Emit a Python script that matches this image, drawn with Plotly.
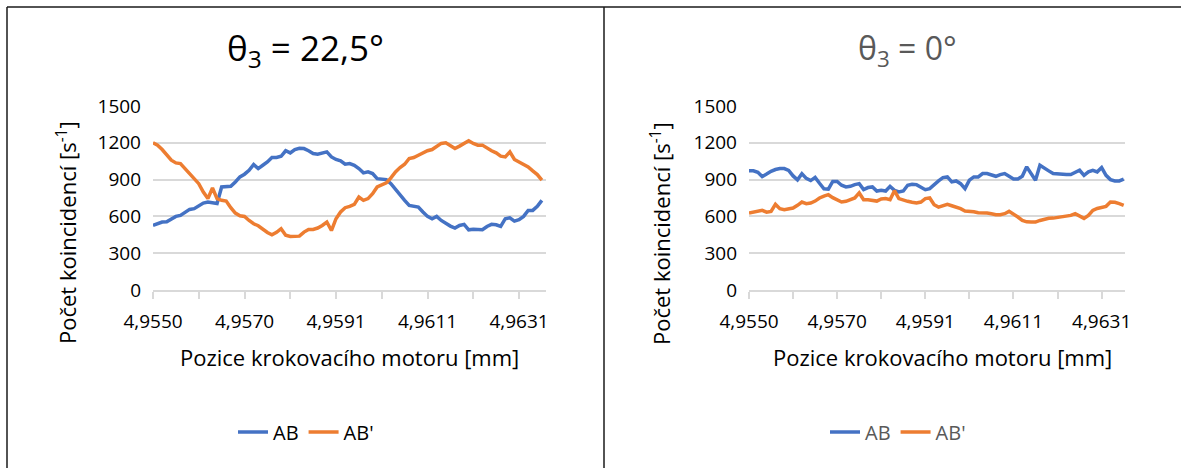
import plotly.graph_objects as go

W, H = 1181, 468


def px(x):
    return x / W


def py(y):
    return 1 - y / H


# ---------------- data ----------------
categories = list(range(86))  # measurement index along motor position
tick_labels = ["4,9550", "4,9570", "4,9591", "4,9611", "4,9631"]
label_every = 20
tick_every = 10

left_ab = [526, 540, 554, 556, 581, 600, 608, 636, 657, 663, 682, 709, 717, 712, 705,
           840, 845, 845, 881, 922, 944, 976, 1023, 990, 1017, 1044, 1080, 1080, 1090, 1135,
           1118, 1145, 1156, 1153, 1135, 1113, 1107, 1118, 1126, 1085, 1064, 1053, 1025, 1031,
           1017, 990, 955, 963, 949, 908, 905, 900, 867, 818, 772, 731, 690, 682, 676,
           636, 600, 581, 600, 567, 540, 521, 505, 526, 535, 491, 496, 496, 491, 518,
           535, 532, 518, 581, 589, 562, 573, 600, 649, 649, 682, 731]
left_abp = [1200, 1181, 1145, 1105, 1058, 1036, 1031, 990, 949, 914, 867, 799, 745, 832, 745,
            731, 725, 671, 627, 605, 600, 567, 540, 524, 496, 469, 450, 470, 500, 447,
            436, 436, 439, 472, 494, 494, 505, 526, 554, 485, 581, 636, 671, 682,
            698, 758, 731, 745, 785, 840, 854, 873, 914, 963, 998, 1025, 1072, 1080, 1099,
            1118, 1135, 1145, 1167, 1195, 1200, 1181, 1154, 1173, 1195, 1216, 1195, 1181, 1181,
            1154, 1135, 1118, 1091, 1085, 1126, 1064, 1044, 1031, 1004, 971, 941, 895]

right_ab = [972, 972, 960, 925, 945, 968, 982, 990, 990, 975, 930, 898, 948, 910, 892,
            918, 870, 825, 822, 885, 885, 854, 840, 845, 859, 867, 818, 835, 840, 807,
            813, 807, 845, 813, 799, 807, 854, 862, 859, 835, 818, 826, 862, 889,
            916, 922, 881, 889, 867, 826, 895, 922, 922, 949, 949, 935, 927, 941, 949,
            927, 905, 905, 927, 1004, 949, 895, 1017, 998, 971, 949, 944, 944, 941, 941,
            955, 976, 935, 963, 976, 963, 998, 935, 900, 889, 889, 903]
right_abp = [627, 635, 644, 649, 635, 641, 698, 663, 655, 663, 668, 690, 717, 704, 709,
             725, 750, 766, 777, 753, 736, 717, 723, 736, 750, 791, 736, 736, 731, 725,
             742, 745, 736, 810, 745, 731, 723, 715, 709, 717, 745, 750, 695, 676,
             690, 698, 687, 676, 663, 644, 644, 638, 630, 630, 627, 622, 614, 614, 622,
             641, 622, 595, 567, 556, 554, 554, 567, 578, 584, 586, 592, 595, 600, 608,
             622, 605, 584, 608, 649, 665, 671, 682, 717, 715, 704, 690]

series_names = ["AB", "AB'"]
titles = ["θ<sub>3</sub> = 22,5°", "θ<sub>3</sub> = 0°"]
x_title = "Pozice krokovacího motoru [mm]"
y_title = "Počet koincidencí [s<sup>-1</sup>]"

# ---------------- style ----------------
BLUE = "#4472C4"
ORANGE = "#ED7D31"
GRID = "#D9D9D9"
FONT = "Open Sans"

label_positions = [k * label_every for k in range(len(tick_labels))]

fig = go.Figure()

panels = [
    dict(ab=left_ab, abp=left_abp, xa="x", ya="y", legend="legend"),
    dict(ab=right_ab, abp=right_abp, xa="x2", ya="y2", legend="legend2"),
]
for p in panels:
    for name, vals, col in [(series_names[0], p["ab"], BLUE), (series_names[1], p["abp"], ORANGE)]:
        fig.add_trace(go.Scatter(
            x=categories[:len(vals)], y=vals, mode="lines", name=name,
            line=dict(color=col, width=3.5, shape="linear"),
            xaxis=p["xa"], yaxis=p["ya"], legend=p["legend"],
        ))


def xaxis_cfg(x0, x1, rng, color):
    return dict(
        domain=[px(x0), px(x1)], range=rng, tickmode="array",
        tickvals=label_positions, ticktext=tick_labels,
        ticks="outside", ticklen=7, tickwidth=1.5, tickcolor=GRID,
        minor=dict(tickmode="linear", tick0=0, dtick=tick_every, ticks="outside",
                   ticklen=7, tickwidth=1.5, tickcolor=GRID, showgrid=False),
        showline=True, linecolor=GRID, linewidth=1.5, showgrid=False, zeroline=False,
        tickfont=dict(family=FONT, size=19, color=color), ticklabelstandoff=6,
        fixedrange=True, automargin=False,
    )


def yaxis_cfg(color):
    return dict(
        domain=[py(290), py(106)], range=[0, 1500], tick0=0, dtick=300,
        showgrid=True, gridcolor=GRID, gridwidth=1.5, zeroline=False, showline=False,
        ticks="", tickfont=dict(family=FONT, size=19, color=color), ticklabelstandoff=11,
        fixedrange=True, automargin=False,
    )


fig.update_layout(
    template="none",
    width=W, height=H, autosize=False,
    margin=dict(l=0, r=0, t=0, b=0, pad=0, autoexpand=False),
    paper_bgcolor="white", plot_bgcolor="white",
    font=dict(family=FONT, color="#000000"),
    xaxis=dict(xaxis_cfg(153, 546, [0, 85.9], "#000000"), anchor="y"),
    yaxis=dict(yaxis_cfg("#000000"), anchor="x"),
    xaxis2=dict(xaxis_cfg(749, 1125, [0, 85.3], "#000000"), anchor="y2"),
    yaxis2=dict(yaxis_cfg("#000000"), anchor="x2"),
    legend=dict(x=px(306), y=py(432), xanchor="center", yanchor="middle", orientation="h",
                font=dict(family=FONT, size=20, color="#000000"), bgcolor="rgba(0,0,0,0)"),
    legend2=dict(x=px(898), y=py(432), xanchor="center", yanchor="middle", orientation="h",
                 font=dict(family=FONT, size=20, color="#595959"), bgcolor="rgba(0,0,0,0)"),
    showlegend=True,
)

annotations = [
    dict(text=titles[0], x=px(305), y=py(50), font=dict(family=FONT, size=35, color="#000000")),
    dict(text=titles[1], x=px(907), y=py(50), font=dict(family=FONT, size=32, color="#595959")),
    dict(text=x_title, x=px(349), y=py(357), font=dict(family=FONT, size=22, color="#000000")),
    dict(text=x_title, x=px(942), y=py(357), font=dict(family=FONT, size=22, color="#000000")),
    dict(text=y_title, x=px(66), y=py(233), textangle=-90, font=dict(family=FONT, size=22, color="#000000")),
    dict(text=y_title, x=px(660), y=py(233), textangle=-90, font=dict(family=FONT, size=22, color="#000000")),
]
for a in annotations:
    a.update(xref="paper", yref="paper", showarrow=False, xanchor="center", yanchor="middle")
fig.update_layout(annotations=annotations)

border = dict(color="#1a1a1a", width=1.5)
fig.update_layout(shapes=[
    dict(type="line", xref="paper", yref="paper", x0=px(7), x1=1, y0=py(7), y1=py(7), line=border),
    dict(type="line", xref="paper", yref="paper", x0=px(7), x1=px(7), y0=py(7), y1=0, line=border),
    dict(type="line", xref="paper", yref="paper", x0=px(604), x1=px(604), y0=py(7), y1=0, line=border),
])

fig.write_html(
    "out.html",
    config={"displayModeBar": False},
    post_script="document.body.style.margin='0';document.body.style.padding='0';"
                "document.body.style.overflow='hidden';",
)
